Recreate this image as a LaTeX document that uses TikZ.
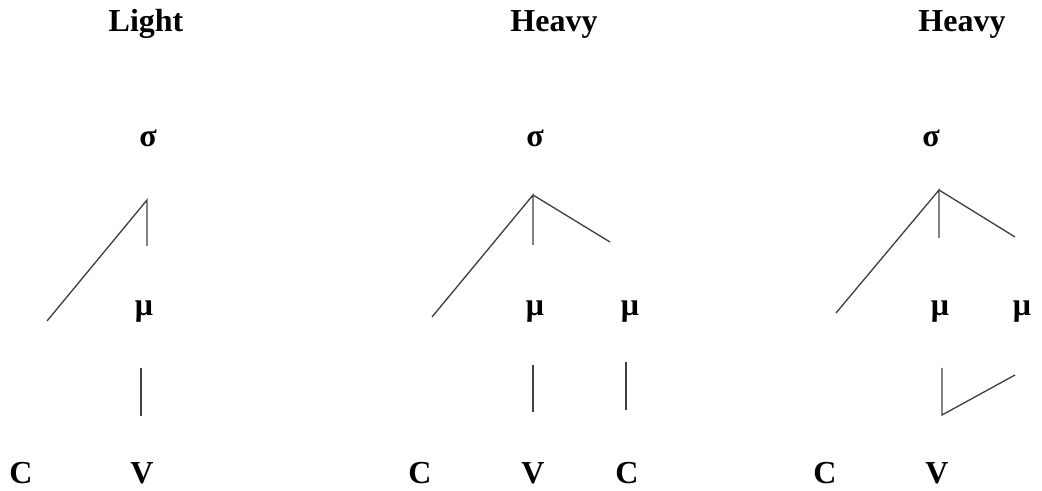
\documentclass[tikz,border=0pt]{standalone}
\usepackage{fontspec}
\setmainfont{Liberation Serif}
\usetikzlibrary{positioning}

\begin{document}
\begin{tikzpicture}[x=0.75pt, y=-0.75pt,
    lbl/.style={font=\fontsize{24}{28}\selectfont\bfseries, inner sep=0pt},
    link/.style={draw=black!75, line width=1pt}
]
\useasboundingbox (0,0) rectangle (1042,491);

% Light
\node[lbl] (t1) at (146,24) {Light};
\node[lbl] (s1) at (148,138) {σ};
\node[lbl] (m1) at (144,312) {μ};
\node[lbl] (c1) at (21,473) {C};
\node[lbl] (v1) at (142,473) {V};
\coordinate (s1top) at (147,200);
\coordinate (s1c) at (47,321);
\coordinate (s1m) at (147,246);
\coordinate (m1b) at (141,368);
\coordinate (v1t) at (141,416);
\draw[link] (s1c) -- (s1top) -- (s1m);
\draw[link] (m1b) -- (v1t);

% Heavy (CVC)
\node[lbl] (t2) at (554,24) {Heavy};
\node[lbl] (s2) at (535,138) {σ};
\node[lbl] (m2a) at (535,312) {μ};
\node[lbl] (m2b) at (630,312) {μ};
\node[lbl] (c2a) at (420,473) {C};
\node[lbl] (v2) at (533,473) {V};
\node[lbl] (c2b) at (627,473) {C};
\coordinate (s2top) at (533,195);
\coordinate (s2c) at (432,317);
\coordinate (s2m) at (533,245);
\coordinate (s2r) at (610,242);
\coordinate (m2at) at (533,365);
\coordinate (m2ab) at (533,412);
\coordinate (m2bt) at (626,362);
\coordinate (m2bb) at (626,410);
\draw[link] (s2c) -- (s2top) -- (s2m);
\draw[link] (s2top) -- (s2r);
\draw[link] (m2at) -- (m2ab);
\draw[link] (m2bt) -- (m2bb);

% Heavy (CVV)
\node[lbl] (t3) at (962,24) {Heavy};
\node[lbl] (s3) at (931,138) {σ};
\node[lbl] (m3a) at (940,312) {μ};
\node[lbl] (m3b) at (1022,312) {μ};
\node[lbl] (c3) at (825,473) {C};
\node[lbl] (v3) at (937,473) {V};
\coordinate (s3top) at (939,190);
\coordinate (s3c) at (836,313);
\coordinate (s3m) at (939,238);
\coordinate (s3r) at (1015,237);
\coordinate (v3t) at (942,368);
\coordinate (v3b) at (942,415);
\coordinate (m3bb) at (1015,375);
\draw[link] (s3c) -- (s3top) -- (s3m);
\draw[link] (s3top) -- (s3r);
\draw[link] (v3t) -- (v3b) -- (m3bb);

\end{tikzpicture}
\end{document}
